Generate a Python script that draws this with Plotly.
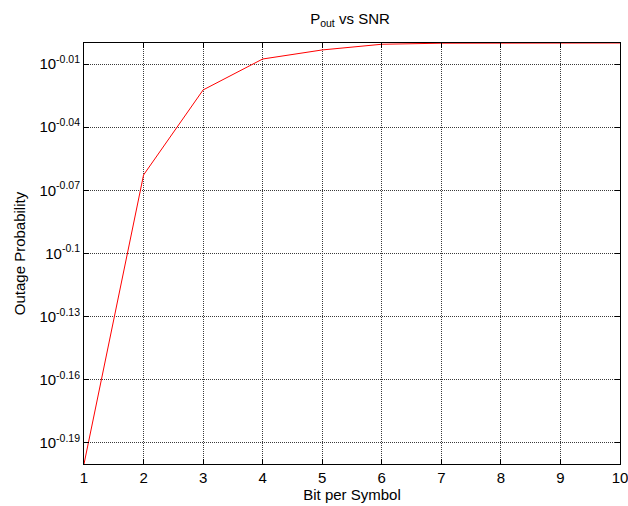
import numpy as np
import plotly.graph_objects as go

bits = [1, 2, 3, 4, 5, 6, 7, 8, 9, 10]
log_pout = [-0.2, -0.0627, -0.0223, -0.0076, -0.0033, -0.0006, -0.0001, 0.0, 0.0, 0.0]
pout = [10 ** v for v in log_pout]

ytick_exps = ["-0.19", "-0.16", "-0.13", "-0.1", "-0.07", "-0.04", "-0.01"]
xticks = [1, 2, 3, 4, 5, 6, 7, 8, 9, 10]

font = "Liberation Sans, Arial, sans-serif"

W, H = 628, 506

fig = go.Figure()
fig.add_trace(go.Scatter(x=bits, y=pout, mode="lines",
                         line=dict(color="#ff0000", width=1), showlegend=False,
                         cliponaxis=False))

fig.update_layout(
    width=W, height=H,
    margin=dict(l=84, r=8, t=43, b=42),
    paper_bgcolor="white", plot_bgcolor="white",
    font=dict(family=font, size=15, color="black"),
    title=dict(text="P<sub>out</sub> vs SNR", x=350 / W, xanchor="center",
               y=1 - 19 / H, yanchor="middle", font=dict(size=15)),
)
fig.update_xaxes(
    range=[1, 10], tickvals=xticks, ticktext=[str(v) for v in xticks],
    automargin=False, tickfont=dict(size=15), ticklabeloverflow="allow",
    showgrid=True, gridcolor="#3a3a3a", griddash="1px,1px", gridwidth=1,
    showline=True, linecolor="black", linewidth=1, mirror="allticks",
    ticks="inside", ticklen=5, tickcolor="black",
    title=dict(text="Bit per Symbol", standoff=0, font=dict(size=15)),
    zeroline=False,
)
fig.update_yaxes(
    type="log", range=[-0.2, 0], automargin=False, tickfont=dict(size=15),
    ticklabeloverflow="allow",
    tickvals=[10 ** float(e) for e in ytick_exps],
    ticktext=["10<sup>%s</sup>" % e for e in ytick_exps],
    showgrid=True, gridcolor="#3a3a3a", griddash="1px,1px", gridwidth=1,
    showline=True, linecolor="black", linewidth=1, mirror="allticks",
    ticks="inside", ticklen=5, tickcolor="black",
    title=dict(text="Outage Probability", standoff=10, font=dict(size=15)),
    zeroline=False,
)

fig.write_html(
    "out.html",
    config={"displayModeBar": False},
    post_script="document.body.style.margin='0';document.body.style.overflow='hidden';",
)
